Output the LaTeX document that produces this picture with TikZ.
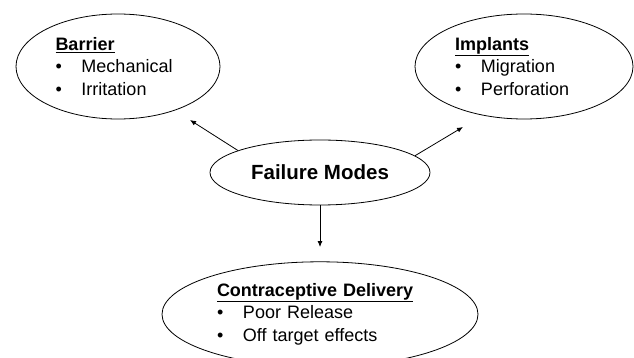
\documentclass[tikz,border=0pt]{standalone}
\usepackage{fontspec}
\setmainfont{Liberation Sans}
\usetikzlibrary{shapes.geometric,arrows.meta}

\newcommand{\modeitem}[1]{\makebox[26pt][l]{\textbullet}#1}

\begin{document}
\begin{tikzpicture}[x=1pt, y=-1pt, >={Latex[length=6pt,width=5pt]},
  mode/.style={draw, ellipse, line width=0.8pt, inner sep=0pt, align=left,
    font=\fontsize{18}{22.5}\selectfont},
  link/.style={->, line width=0.8pt}]
\useasboundingbox (0,0) rectangle (634,358);

\node [mode, minimum width=220pt, minimum height=65pt, align=center,
  font=\bfseries\fontsize{20.5}{24}\selectfont] (fm) at (320,172.5) {Failure Modes};

\node [mode, minimum width=204pt, minimum height=105pt, text width=125pt] (barrier) at (118,66.5)
  {\underline{\textbf{Barrier}}\\ \modeitem{Mechanical}\\ \modeitem{Irritation}};
\node [mode, minimum width=218pt, minimum height=105pt, text width=138pt] (implants) at (524,66.5)
  {\underline{\textbf{Implants}}\\ \modeitem{Migration}\\ \modeitem{Perforation}};
\node [mode, minimum width=316pt, minimum height=105pt, text width=206pt] (delivery) at (320,314.3)
  {\underline{\textbf{Contraceptive Delivery}}\\ \modeitem{Poor Release}\\ \modeitem{Off target effects}};

\coordinate (barrier tip) at (190,120);
\coordinate (implants tip) at (463,127);
\coordinate (delivery tip) at (320,247);
\draw [link] (fm.165) -- (barrier tip);
\draw [link] (fm.10) -- (implants tip);
\draw [link] (fm.south) -- (delivery tip);
\end{tikzpicture}
\end{document}
